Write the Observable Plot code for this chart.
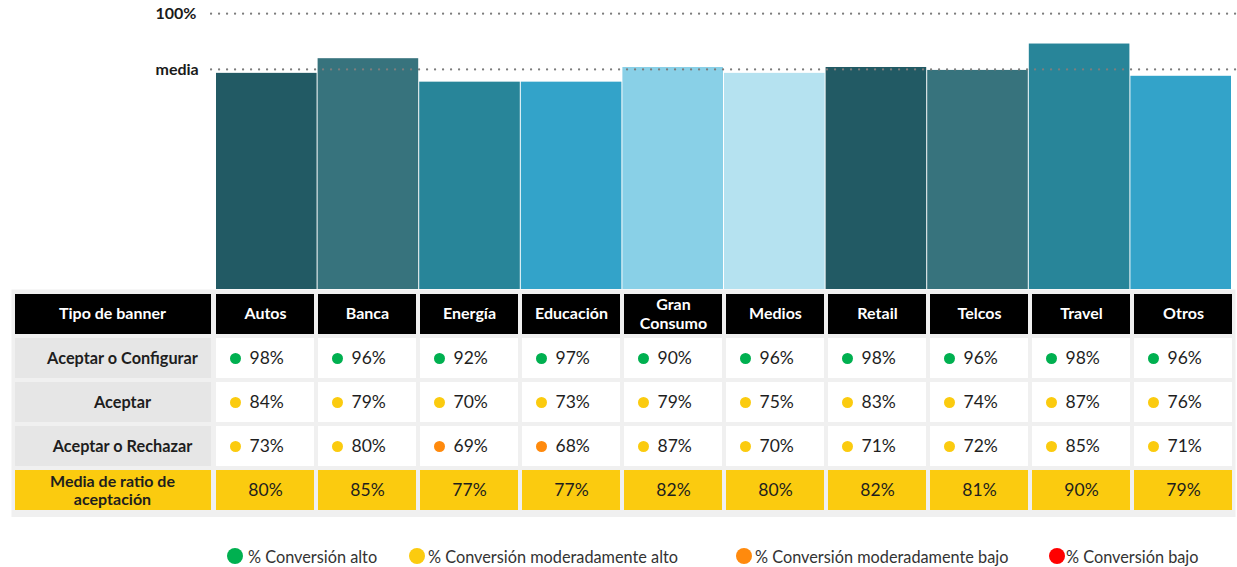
<!DOCTYPE html>
<html><head><meta charset="utf-8">
<script src="https://cdn.jsdelivr.net/npm/d3@7"></script>
<script src="https://cdn.jsdelivr.net/npm/@observablehq/plot@0.6"></script>
<style>
body{margin:0;background:#fff;font-family:Lato,"Noto Sans",sans-serif;}
#wrap{position:relative;width:1237px;height:567px;overflow:hidden;}
#wrap svg{display:block;overflow:hidden;}
.legend{position:absolute;top:546px;left:0;width:1237px;height:22px;font-size:16.3px;color:#333;}
.item{position:absolute;top:0;height:20px;display:flex;align-items:center;white-space:nowrap;}
.sw{width:16px;height:16px;border-radius:50%;display:inline-block;}
</style>
</head><body>
<div id="wrap"></div>
<script>
// ---- data ----
const categories = ["Autos","Banca","Energía","Educación","Gran Consumo","Medios","Retail","Telcos","Travel","Otros"];
const headerLabels = ["Autos","Banca","Energía","Educación","Gran\nConsumo","Medios","Retail","Telcos","Travel","Otros"];
const barColors = ["#225a64","#37737d","#288599","#33a3c9","#89d0e7","#b5e2f0","#225a64","#37737d","#288599","#33a3c9"];
const bannerTypes = ["Aceptar o Configurar","Aceptar","Aceptar o Rechazar"];
const aceptarConfigurar = [98,96,92,97,90,96,98,96,98,96];
const aceptar = [84,79,70,73,79,75,83,74,87,76];
const aceptarRechazar = [73,80,69,68,87,70,71,72,85,71];
const mediaRatio = [80,85,77,77,82,80,82,81,90,79];
const overallMedia = 81;
const headerTitle = "Tipo de banner";
const mediaTitle = "Media de ratio de\naceptación";
const legendLabels = ["% Conversión alto","% Conversión moderadamente alto","% Conversión moderadamente bajo","% Conversión bajo"];
const levelColors = ["#00b050","#fbcb0f","#ff8a0d","#ff0000"]; // alto, mod. alto, mod. bajo, bajo
const levelThresholds = [50,70,90];

const FONT = "Lato, 'Noto Sans', sans-serif";
const wrap = document.getElementById("wrap");

// ---- bar chart ----
const barData = categories.map((c,i)=>({cat:c, c1:i+2, c2:i+3, v:mediaRatio[i]}));
const refLines = [{v:100,label:"100%"},{v:overallMedia,label:"media"}];
const barPlot = Plot.plot({
  width:1237, height:289, marginLeft:211, marginRight:0, marginTop:0, marginBottom:0,
  x:{type:"linear", domain:[2,12], range:[216,1232], axis:null},
  y:{domain:[0,100], range:[307.5,14.2], axis:null},
  color:{domain:categories, range:barColors},
  style:{fontFamily:FONT, overflow:"hidden", background:"white"},
  marks:[
    Plot.rect(barData,{x1:"c1", x2:"c2", y1:0, y2:"v", fill:"cat", insetRight:1}),
    Plot.ruleY(refLines,{y:"v", dy:-1, stroke:"#7d7d7d", strokeWidth:2.2, strokeDasharray:"0.1 7.9", strokeLinecap:"round"}),
    Plot.text(refLines,{y:"v", dy:-1, text:"label", frameAnchor:"left", dx:-56, textAnchor:"start", fontWeight:"bold", fontSize:16, fill:"#1a1a1a"})
  ]
});
wrap.appendChild(barPlot);

// ---- table ----
const rows = ["header", ...bannerTypes, "media"];
const seriesByRow = [aceptarConfigurar, aceptar, aceptarRechazar];
const headerCells = [{row:"header", c1:0, c2:2, label:headerTitle},
  ...categories.map((c,i)=>({row:"header", c1:i+2, c2:i+3, label:headerLabels[i]}))];
const labelCells = bannerTypes.map(b=>({row:b, c1:0, c2:2, label:b}));
const valueCells = bannerTypes.flatMap((b,r)=>categories.map((c,i)=>({row:b, c1:i+2, c2:i+3, v:seriesByRow[r][i], label:seriesByRow[r][i]+"%"})));
const mediaLabelCell = [{row:"media", c1:0, c2:2, label:mediaTitle}];
const mediaCells = categories.map((c,i)=>({row:"media", c1:i+2, c2:i+3, label:mediaRatio[i]+"%"}));

const tablePlot = Plot.plot({
  width:1237, height:228, marginLeft:11, marginRight:2, marginTop:0, marginBottom:0,
  x:{type:"linear", domain:[0,12], range:[10,1234], axis:null},
  y:{type:"band", domain:rows, range:[3.5,223.5], paddingInner:0.09, paddingOuter:0, axis:null},
  color:{type:"threshold", domain:levelThresholds, range:[levelColors[3],levelColors[2],levelColors[1],levelColors[0]]},
  style:{fontFamily:FONT, background:"white"},
  marks:[
    Plot.frame({fill:"#f0f0f0", stroke:"none"}),
    Plot.barX(headerCells.slice(0,1),{x1:"c1", x2:"c2", y:"row", fill:"#000", insetLeft:5, insetRight:3}),
    Plot.barX(headerCells.slice(1),{x1:"c1", x2:"c2", y:"row", fill:"#000", insetLeft:2, insetRight:2}),
    Plot.barX(labelCells,{x1:"c1", x2:"c2", y:"row", fill:"#e6e6e6", insetLeft:5, insetRight:3}),
    Plot.barX(valueCells,{x1:"c1", x2:"c2", y:"row", fill:"#fff", insetLeft:2, insetRight:2}),
    Plot.barX(mediaLabelCell,{x1:"c1", x2:"c2", y:"row", fill:"#fbcb0f", insetLeft:5, insetRight:3}),
    Plot.barX(mediaCells,{x1:"c1", x2:"c2", y:"row", fill:"#fbcb0f", insetLeft:2, insetRight:2}),
    Plot.text(headerCells,{x:d=>(d.c1+d.c2)/2, y:"row", dy:-1.5, text:"label", fill:"#fff", fontWeight:"bold", fontSize:16, lineHeight:1.2}),
    Plot.text(labelCells,{x:d=>(d.c1+d.c2)/2, y:"row", text:"label", fill:"#1e1e1e", fontWeight:"bold", fontSize:16.3, dx:10}),
    Plot.text(mediaLabelCell,{x:d=>(d.c1+d.c2)/2, y:"row", text:"label", fill:"#1e1e1e", fontWeight:"bold", fontSize:16, lineHeight:1.13}),
    Plot.dot(valueCells,{x:"c1", y:"row", fill:"v", r:5.5, dx:21}),
    Plot.text(valueCells,{x:"c1", y:"row", text:"label", dx:35, textAnchor:"start", fill:"#1e1e1e", fontSize:17.5}),
    Plot.text(mediaCells,{x:d=>(d.c1+d.c2)/2, y:"row", text:"label", fill:"#1e1e1e", fontSize:17.5})
  ]
});
wrap.appendChild(tablePlot);

// ---- legend ----
const legend = document.createElement("div");
legend.className = "legend";
const legendLeft = [227, 409, 736, 1049];
const legendGap = [5, 3, 3, 1];
legendLabels.forEach((l,i)=>{
  const it = document.createElement("div");
  it.className = "item";
  it.style.left = legendLeft[i]+"px";
  const sw = document.createElement("span");
  sw.className = "sw"; sw.style.background = levelColors[i]; sw.style.marginRight = legendGap[i]+"px";
  const tx = document.createElement("span"); tx.textContent = l;
  it.appendChild(sw); it.appendChild(tx);
  legend.appendChild(it);
});
wrap.appendChild(legend);
</script>
</body></html>
